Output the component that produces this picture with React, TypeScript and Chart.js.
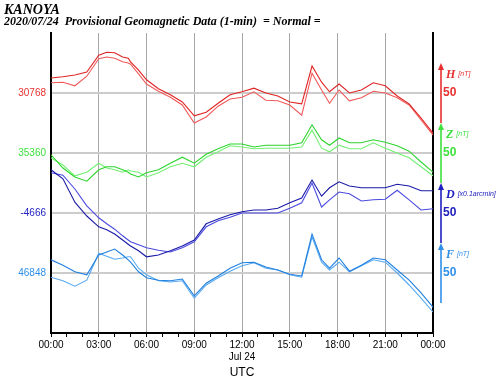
import React, { useEffect, useRef } from "react";
import { Chart, registerables } from "chart.js";

Chart.register(...registerables);

// Hours (UTC) of the sampled points
const HOURS = [0, 0.75, 1.5, 2.25, 3, 3.5, 4, 4.5, 4.85, 5, 5.5, 6, 6.75, 7.5, 8.25, 9, 9.75, 10.5, 11.25, 12, 12.75, 13.5, 14.25, 15, 15.75, 16.4, 17, 17.5, 18.1, 18.75, 19.5, 20.25, 21, 21.75, 22.5, 23.25, 24];

// Deviations from baselines (nT or 0.1 arcmin)
const H_A = [25, 27, 30, 35, 63, 68, 67, 60, 58, 52, 38, 22, 7, -3, -15, -38, -32, -17, -3, 2, 8, 0, -5, -15, -18, 45, 18, 2, 15, 0, 5, 17, 12, -5, -18, -42, -67];
const H_B = [17, 18, 12, 28, 57, 60, 58, 52, 50, 48, 32, 15, 3, -7, -20, -50, -40, -22, -10, -7, 2, -12, -13, -20, -37, 33, 5, -17, 5, -13, -8, 3, 0, -8, -20, -45, -70];
const Z_A = [-3, -25, -40, -47, -28, -23, -23, -28, -32, -35, -40, -33, -28, -17, -7, -17, -2, 7, 15, 15, 10, 13, 13, 13, 17, 47, 22, 13, 25, 17, 17, 22, 18, 12, 3, -15, -32];
const Z_B = [-8, -20, -38, -32, -17, -25, -28, -32, -28, -30, -32, -40, -33, -23, -17, -23, -7, 2, 12, 10, 7, 8, 8, 8, 10, 38, 8, 2, 13, 7, 7, 17, 8, 0, -8, -23, -38];
const D_A = [72, 57, 18, -5, -23, -28, -35, -45, -52, -55, -63, -73, -70, -63, -55, -45, -18, -10, -3, 2, 5, 5, 8, 17, 25, 55, 28, 42, 52, 45, 42, 42, 42, 48, 45, 37, 37];
const D_B = [67, 63, 40, 12, -8, -18, -27, -38, -45, -48, -53, -58, -62, -65, -58, -48, -23, -13, -7, 0, 0, 0, 0, 8, 17, 50, 10, 22, 35, 32, 20, 22, 23, 38, 22, 5, 7];
const F_A = [22, 13, 2, -3, 30, 35, 40, 30, 22, 18, 2, -8, -12, -13, -10, -38, -17, -5, 8, 17, 18, 10, 5, -2, -5, 65, 22, 8, 25, 3, 13, 25, 22, 5, -12, -33, -57];
const F_B = [-7, -13, -22, -12, 33, 28, 23, 25, 27, 27, 8, -3, -13, -15, -13, -42, -20, -8, 3, 12, 17, 8, 5, -3, -7, 60, 18, 5, 18, 2, 12, 22, 18, 0, -20, -42, -65];

// Components, baselines and scale labels
const COMPONENTS = ["H", "Z", "D", "F"];
const UNITS = ["[nT]", "[nT]", "[x0.1arcmin]", "[nT]"];
const BASELINES = ["30768", "35360", "-4666", "46848"];
const SCALE_LABELS = ["50", "50", "50", "50"];
const X_TICK_HOURS = [0, 3, 6, 9, 12, 15, 18, 21, 24];

const OFFSETS = [400, 300, 200, 100];
const COMP_COLORS = ["#e83030", "#3ee03e", "#2020c0", "#3090e8"];
const LINE_COLORS = [
  ["#e02424", "#f25a5a"],
  ["#2ed42e", "#74f074"],
  ["#1a1aa8", "#4a4ae0"],
  ["#2080e0", "#58aaf2"],
];
const SERIES = [[H_A, H_B], [Z_A, Z_B], [D_A, D_B], [F_A, F_B]];

function colorForValue(v: number): string {
  const i = OFFSETS.indexOf(v);
  return i >= 0 ? COMP_COLORS[i] : "#000";
}

const decorPlugin = {
  id: "decor",
  afterDraw(chart: any) {
    const ctx = chart.ctx;
    const y = chart.scales.y;
    const area = chart.chartArea;
    ctx.save();
    // Title
    ctx.fillStyle = "#000";
    ctx.textBaseline = "alphabetic";
    ctx.textAlign = "left";
    ctx.font = "italic bold 14px 'Liberation Serif', serif";
    ctx.fillText("KANOYA", 4, 14);
    ctx.font = "italic bold 12px 'Liberation Serif', serif";
    ctx.fillText("2020/07/24  Provisional Geomagnetic Data (1-min)  = Normal =", 4, 25);
    // Scale arrows
    const ax = area.right + 8;
    COMPONENTS.forEach((c, i) => {
      const o = OFFSETS[i];
      const top = y.getPixelForValue(o + 50);
      const bot = y.getPixelForValue(o - 50);
      ctx.strokeStyle = COMP_COLORS[i];
      ctx.fillStyle = COMP_COLORS[i];
      ctx.lineWidth = 1.6;
      ctx.beginPath();
      ctx.moveTo(ax, bot);
      ctx.lineTo(ax, top + 4);
      ctx.stroke();
      ctx.beginPath();
      ctx.moveTo(ax, top);
      ctx.lineTo(ax - 3, top + 7);
      ctx.lineTo(ax + 3, top + 7);
      ctx.closePath();
      ctx.fill();
      ctx.textBaseline = "middle";
      ctx.font = "italic bold 12px 'Liberation Serif', serif";
      ctx.fillText(c, ax + 5, top + 12);
      const w = ctx.measureText(c).width;
      ctx.font = "italic 7px 'Liberation Sans', Arial, sans-serif";
      ctx.fillText(UNITS[i], ax + 8 + w, top + 11);
    });
    ctx.restore();
  },
};

export default function App() {
  const ref = useRef<HTMLCanvasElement | null>(null);
  useEffect(() => {
    if (!ref.current) return;
    const datasets: any[] = [];
    SERIES.forEach((pair, ci) => {
      pair.forEach((arr, k) => {
        datasets.push({
          label: COMPONENTS[ci] + (k ? "2" : "1"),
          data: HOURS.map((h, i) => ({ x: h, y: OFFSETS[ci] + arr[i] })),
          borderColor: LINE_COLORS[ci][k],
          borderWidth: 1.1,
          pointRadius: 0,
          tension: 0,
          fill: false,
        });
      });
    });
    const chart = new Chart(ref.current, {
      type: "line",
      data: { datasets },
      plugins: [decorPlugin],
      options: {
        animation: false,
        responsive: false,
        layout: { padding: { top: 33, left: 0, right: 0, bottom: 0 } },
        plugins: { legend: { display: false }, tooltip: { enabled: false } },
        scales: {
          x: {
            type: "linear",
            min: 0,
            max: 24,
            afterFit: (s: any) => { s.height = 47; },
            ticks: {
              stepSize: 1,
              autoSkip: false,
              maxRotation: 0,
              padding: 2,
              color: "#000",
              font: { family: "'Liberation Sans', Arial, sans-serif", size: 10 },
              callback: (v: any) => {
                const n = Number(v);
                if (!X_TICK_HOURS.includes(n)) return "";
                const lbl = String(n % 24).padStart(2, "0") + ":00";
                return n === 12 ? [lbl, "Jul 24"] : lbl;
              },
            },
            grid: {
              color: (c: any) => (c.tick && c.tick.value % 3 === 0 ? "#a8a8a8" : "rgba(0,0,0,0)"),
              tickColor: "#000",
              tickLength: 4,
              lineWidth: 1,
            },
            border: { color: "#000", width: 2 },
            title: {
              display: true,
              text: "UTC",
              color: "#000",
              padding: { top: 0, bottom: 0 },
              font: { family: "'Liberation Sans', Arial, sans-serif", size: 12 },
            },
          },
          y: {
            type: "linear",
            position: "left",
            min: 0,
            max: 500,
            afterFit: (s: any) => { s.width = 51; },
            ticks: {
              stepSize: 100,
              padding: 5,
              color: (c: any) => colorForValue(c.tick.value),
              font: { family: "'Liberation Sans', Arial, sans-serif", size: 10 },
              callback: (v: any) => {
                const i = OFFSETS.indexOf(Number(v));
                return i >= 0 ? BASELINES[i] : "";
              },
            },
            grid: {
              drawTicks: false,
              lineWidth: 2,
              color: (c: any) => (OFFSETS.includes(c.tick.value) ? "#cccccc" : "rgba(0,0,0,0)"),
            },
            border: { color: "#000", width: 2 },
          },
          y2: {
            type: "linear",
            position: "right",
            min: 0,
            max: 500,
            afterFit: (s: any) => { s.width = 67; },
            ticks: {
              stepSize: 100,
              padding: 10,
              color: (c: any) => colorForValue(c.tick.value),
              font: { family: "'Liberation Sans', Arial, sans-serif", size: 12, weight: "bold" },
              callback: (v: any) => {
                const i = OFFSETS.indexOf(Number(v));
                return i >= 0 ? SCALE_LABELS[i] : "";
              },
            },
            grid: { display: false, drawTicks: false },
            border: { color: "#000", width: 2 },
          },
        },
      } as any,
    });
    return () => chart.destroy();
  }, []);
  return (
    <div style={{ position: "absolute", left: 0, top: 0, width: 500, height: 380, background: "#fff" }}>
      <canvas ref={ref} width={500} height={380} />
    </div>
  );
}
